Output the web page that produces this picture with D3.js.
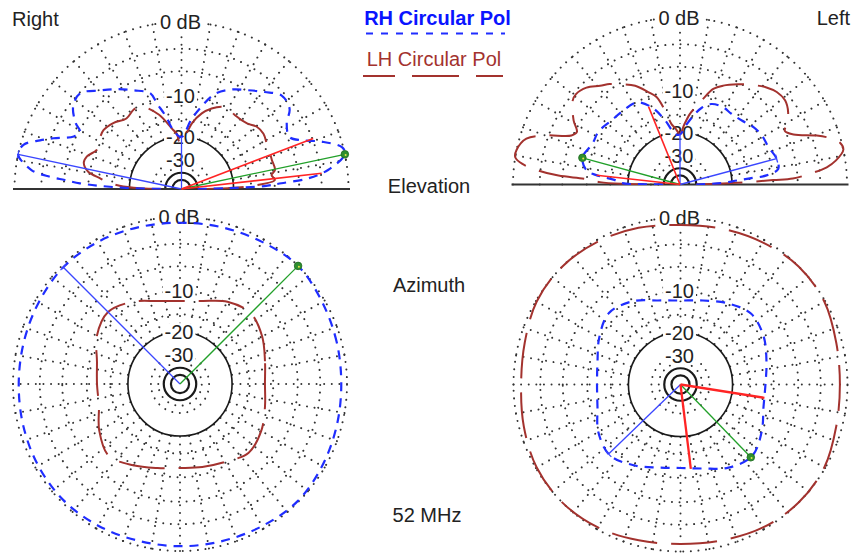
<!DOCTYPE html>
<html><head><meta charset="utf-8">
<script src="https://cdnjs.cloudflare.com/ajax/libs/d3/7.8.5/d3.min.js"></script>
<style>
body{margin:0;background:#fff}
svg{display:block}
text{font-family:"Liberation Sans",Arial,Helvetica,sans-serif}
</style>
</head><body>
<svg id="c" width="854" height="557"></svg>
<script>
// ---------- DATA ----------
// grid (ARRL log scale, dB)
const dottedRings = [0, -3, -6, -10, -15, -30, -35];
const solidRings = [-20, -40, -50];
const ringLabelDb = [0, -10, -20, -30];
const ringLabelText = ["0 dB", "-10", "-20", "-30"];
const spokeStep = 10;

// Elevation, "Right" view: [elevation angle deg, dB]
const elevRightRH = [[0,-40],[1,-22],[2,-12],[3.3,-8.8],[4.8,-4.7],[7.4,-2.1],[12,0],[14.5,-0.1],[18.7,-2.1],[22,-4.3],[25.7,-5.7],[32,-5.1],[36.6,-3.7],[43,-3.4],[49.4,-4.6],[56,-5.8],[63,-6.9],[70.7,-8.7],[77,-12],[82,-14.9],[90,-20],[98,-17.7],[102,-14],[106,-10.8],[108,-8.7],[116,-7.2],[123,-5.8],[129.5,-4.6],[136.7,-3.1],[142.7,-3.5],[148,-5.0],[150.6,-6.2],[154,-5.7],[158.4,-3.3],[161,-1.9],[164.4,-0.3],[168,0],[172.8,-1.7],[174.7,-4.0],[175.6,-6.1],[176.8,-8.5],[177.8,-12.3],[179,-20],[180,-40]];
const elevRightLH = [[0,-40],[1,-22],[2.5,-15],[5.5,-9.9],[8.8,-10.4],[11.5,-9.6],[17.8,-9.7],[22,-9.6],[28,-9.4],[34,-9.0],[39.6,-9.2],[45,-10.1],[54,-10.4],[60,-10.0],[64,-10.3],[69.5,-11.4],[75,-13.0],[81,-15.8],[88,-21],[92,-22],[95,-18.8],[98,-17.7],[107,-13.1],[116,-10.3],[121,-10.1],[128,-10.7],[136,-9.7],[143,-9.2],[147,-9.4],[155,-10.0],[161,-8.8],[165,-8.6],[169.5,-9.7],[172.5,-12.2],[174,-13.3],[177,-17],[179,-24],[180,-40]];
// Elevation, "Left" view
const elevLeftRH = [[0,-40],[2,-24],[4,-18.4],[5,-14.9],[6,-11.2],[9,-8.9],[15,-8.8],[23,-9.5],[31,-9.6],[38,-10.0],[46,-10.8],[54,-11.1],[61,-10.9],[68.6,-11.3],[74,-12.6],[78,-14.4],[84,-17.6],[90,-20.7],[95.6,-20.4],[103,-16.0],[110,-12.2],[117.7,-10.1],[127.5,-10.0],[137,-9.9],[147,-9.3],[155,-9.4],[164.7,-8.6],[171.5,-9.8],[173.5,-11.6],[174.5,-13.3],[176,-16],[178.7,-18.2],[179.5,-24],[180,-40]];
const elevLeftLH = [[0,-40],[2,-16],[2.7,-10],[3.0,-6.7],[4.7,-4.3],[6.7,-2.1],[8.7,-1.0],[12,0],[14.8,-0.2],[17.3,-1.1],[19.7,-2.4],[23.8,-5.1],[27,-6.0],[29.6,-5.3],[33.7,-4.3],[38.7,-3.7],[43.7,-3.8],[48.3,-4.3],[55,-5.4],[60,-6.3],[66.4,-7.5],[70.8,-8.6],[74.8,-10.8],[78,-12.6],[82,-14.6],[86,-17.6],[90,-20.5],[95,-18.5],[98,-17.3],[101.5,-13.6],[105,-10.5],[109,-9.2],[114.4,-7.4],[121.7,-6.0],[125,-5.3],[129,-4.7],[134,-3.7],[139,-3.3],[142,-3.5],[149,-5.1],[153,-6.3],[155.7,-5.8],[160,-2.6],[163.4,-0.7],[168,0],[170.6,0],[172.5,-0.8],[174.4,-2.8],[175.8,-5.4],[176.6,-9.7],[178.3,-12.6],[179.3,-18],[180,-40]];
// Azimuth patterns: [azimuth deg (CCW from right), dB]
const azRightRH = [[0,-0.6],[15,-0.5],[30,-0.3],[45,0],[60,-0.3],[75,-0.5],[90,-0.6],[105,-0.5],[120,-0.3],[135,-0.2],[150,-0.4],[165,-0.55],[180,-0.6],[195,-0.5],[210,-0.35],[225,-0.25],[240,-0.35],[255,-0.5],[270,-0.5],[285,-0.45],[300,-0.3],[315,-0.1],[330,-0.3],[345,-0.5]];
const azRightLH = [[0,-11.6],[15,-11.0],[30,-9.7],[45,-8.8],[60,-9.7],[75,-11.4],[90,-12.0],[105,-11.4],[120,-9.7],[135,-8.5],[150,-9.5],[165,-11.4],[180,-12.0],[195,-11.8],[210,-10.0],[225,-8.6],[240,-9.9],[255,-11.2],[270,-11.8],[285,-11.4],[300,-10.6],[315,-9.3],[330,-9.9],[345,-11.0]];
const azLeftRH = [[0,-11.6],[15,-10.8],[30,-9.5],[45,-8.8],[60,-9.9],[75,-11.2],[90,-11.8],[105,-11.2],[120,-9.5],[135,-8.6],[150,-9.9],[165,-11.4],[180,-11.9],[195,-11.4],[210,-9.7],[225,-8.8],[240,-10.0],[255,-11.4],[270,-11.9],[285,-11.2],[300,-9.5],[315,-8.6],[330,-9.9],[345,-11.4]];
const azLeftLH = [[0,-0.8],[15,-0.6],[30,-0.1],[45,0],[60,-0.3],[75,-0.6],[90,-0.8],[105,-0.5],[120,-0.2],[135,0],[150,-0.1],[165,-0.6],[180,-0.8],[195,-0.5],[210,-0.1],[225,0],[240,-0.2],[255,-0.6],[270,-0.8],[285,-0.6],[300,-0.2],[315,0],[330,-0.1],[345,-0.6]];
// cursor / max / beamwidth lines: [kind, angle, dB]
const elevRightMarks = [["cursor",168,0],["cursor",90,-20],["max",12,0],["bw",21,-2.9],["bw",6.4,-2.9]];
const elevLeftMarks = [["cursor",15,-8.8],["cursor",90,-20.5],["max",164.7,-8.6],["bw",112,-11.8],["bw",173.7,-11.8]];
const azRightMarks = [["cursor",135,-0.2],["max",45,0]];
const azLeftMarks = [["cursor",224,-8.8],["max",314,-8.6],["bw",351,-11.6],["bw",277,-11.6]];

const titles = {left:"Right", right:"Left", elev:"Elevation", az:"Azimuth", freq:"52 MHz"};
const legendRH = "RH Circular Pol", legendLH = "LH Circular Pol";

// ---------- DRAWING ----------
const W = 854, H = 557, R = 167;
const svg = d3.select("#c");
svg.append("rect").attr("width", W).attr("height", H).attr("fill", "#fff");

const rLin = d3.scaleLinear().domain([0, 1]).range([0, R]);
const rad = db => rLin(Math.pow(0.89, -db / 2));
const toRad = d3.scaleLinear().domain([0, 360]).range([0, 2 * Math.PI]);

const C_RH = "#1f2dff", C_LH = "#a3322e", C_GRID = "#333";
const FS = 20;

const plots = [
  {cx:181.5, cy:189, elev:true, rh:elevRightRH, lh:elevRightLH, marks:elevRightMarks, bwW:1.6},
  {cx:680, cy:184.5, elev:true, rh:elevLeftRH, lh:elevLeftLH, marks:elevLeftMarks, bwW:1.6},
  {cx:180, cy:384, elev:false, rh:azRightRH, lh:azRightLH, marks:azRightMarks, bwW:2.2},
  {cx:680.5, cy:384.5, elev:false, rh:azLeftRH, lh:azLeftLH, marks:azLeftMarks, bwW:2.3}
];

const defs = svg.append("defs");
const dotStyle = sel => sel.attr("stroke", C_GRID).attr("stroke-width", 2)
  .attr("stroke-dasharray", "0.01 7.6").attr("stroke-linecap", "round");

plots.forEach((p, i) => {
  const g = svg.append("g").attr("transform", `translate(${p.cx},${p.cy})`);
  const ring = r => p.elev
    ? `M${-r},0A${r},${r} 0 0 1 ${r},0`
    : `M${-r},0A${r},${r} 0 1 1 ${r},0A${r},${r} 0 1 1 ${-r},0`;
  // dotted rings
  dottedRings.forEach(db => {
    g.append("path").attr("d", ring(rad(db))).attr("fill", "none").call(dotStyle);
  });
  // spokes
  const spokes = p.elev ? d3.range(spokeStep, 180, spokeStep) : d3.range(0, 360, spokeStep);
  spokes.forEach(a => {
    const r0 = rad(-20), r1 = rad(0);
    const t = toRad(a);
    g.append("line")
      .attr("x1", r1 * Math.cos(t)).attr("y1", -r1 * Math.sin(t))
      .attr("x2", r0 * Math.cos(t)).attr("y2", -r0 * Math.sin(t))
      .call(dotStyle);
  });
  // solid rings
  solidRings.forEach((db, k) => {
    g.append("path").attr("d", ring(rad(db))).attr("fill", "none")
      .attr("stroke", "#1a1a1a").attr("stroke-width", k === 0 ? 1.6 : 2.2);
  });
  // ground line
  if (p.elev) {
    g.append("line").attr("x1", -R - 1.5).attr("x2", R + 1.5).attr("y1", 0).attr("y2", 0)
      .attr("stroke", "#333").attr("stroke-width", 2.2);
  }
  // ring labels on vertical spoke
  ringLabelDb.forEach((db, k) => {
    const y = -rad(db);
    const t = g.append("text").attr("x", -1).attr("y", y).attr("dy", "0.36em")
      .attr("text-anchor", "middle").attr("font-size", FS).attr("fill", "#222")
      .text(ringLabelText[k]);
    const bb = t.node().getBBox();
    g.insert("rect", () => t.node()).attr("x", bb.x - 2).attr("y", bb.y + 2)
      .attr("width", bb.width + 4).attr("height", bb.height - 4).attr("fill", "#fff");
  });
  // clip for elevation
  let clip = null;
  if (p.elev) {
    const id = "clip" + i;
    defs.append("clipPath").attr("id", id).append("rect")
      .attr("x", p.cx - R - 6).attr("y", p.cy - R - 10).attr("width", 2 * R + 12).attr("height", R + 10.5);
    clip = `url(#${id})`;
  }
  const wrap = svg.append("g").attr("clip-path", clip);
  const pat = wrap.append("g").attr("transform", `translate(${p.cx},${p.cy})`);
  const line = d3.lineRadial()
    .angle(d => toRad(90 - d[0]))
    .radius(d => rad(d[1]))
    .curve(p.elev ? d3.curveCatmullRom.alpha(0.5) : d3.curveCatmullRomClosed.alpha(0.5));
  pat.append("path").attr("d", line(p.lh)).attr("fill", "none")
    .attr("stroke", C_LH).attr("stroke-width", 2).attr("stroke-dasharray", "46 14");
  pat.append("path").attr("d", line(p.rh)).attr("fill", "none")
    .attr("stroke", C_RH).attr("stroke-width", 2.2).attr("stroke-dasharray", "9 7");
  // markers
  const mg = svg.append("g").attr("transform", `translate(${p.cx},${p.cy})`);
  p.marks.forEach(([kind, a, db]) => {
    const t = toRad(a), r = rad(db);
    const x = r * Math.cos(t), y = -r * Math.sin(t);
    const col = kind === "cursor" ? "#3a46ff" : kind === "max" ? "#22a02a" : "#ff2424";
    const w = kind === "bw" ? p.bwW : 1.3;
    mg.append("line").attr("x1", 0).attr("y1", 0).attr("x2", x).attr("y2", y)
      .attr("stroke", col).attr("stroke-width", w);
    if (kind === "cursor" && a !== 90) {
      const px = -Math.sin(t) * 4, py = -Math.cos(t) * 4;
      mg.append("line").attr("x1", x - px).attr("y1", y - py).attr("x2", x + px).attr("y2", y + py)
        .attr("stroke", col).attr("stroke-width", 1.3);
    }
    if (kind === "max") {
      mg.append("circle").attr("cx", x).attr("cy", y).attr("r", 3.8)
        .attr("fill", "#2f8f2f").attr("stroke", "#1d6a1d").attr("stroke-width", 0.8);
      mg.append("circle").attr("cx", x + 0.8).attr("cy", y + 0.8).attr("r", 1)
        .attr("fill", "#e6e64a");
    }
  });
});

// titles
const txt = (x, y, s, opt = {}) => svg.append("text").attr("x", x).attr("y", y)
  .attr("font-size", opt.fs || FS).attr("fill", opt.fill || "#222")
  .attr("font-weight", opt.fw || "normal").attr("text-anchor", opt.anchor || "start").text(s);
txt(12, 26, titles.left);
txt(850, 25, titles.right, {anchor:"end"});
txt(429, 193, titles.elev, {anchor:"middle"});
txt(429, 292, titles.az, {anchor:"middle"});
txt(427, 522, titles.freq, {anchor:"middle"});

// legend
txt(437.5, 25, legendRH, {anchor:"middle", fw:"bold", fill:"#0a14ff"});
svg.append("line").attr("x1", 366).attr("x2", 505).attr("y1", 33.5).attr("y2", 33.5)
  .attr("stroke", C_RH).attr("stroke-width", 2.2).attr("stroke-dasharray", "7 8");
txt(434, 66, legendLH, {anchor:"middle", fill:C_LH});
svg.append("line").attr("x1", 363).attr("x2", 503).attr("y1", 76).attr("y2", 76)
  .attr("stroke", C_LH).attr("stroke-width", 2).attr("stroke-dasharray", "47 17")
  .attr("stroke-dashoffset", 15);
</script>
</body></html>
